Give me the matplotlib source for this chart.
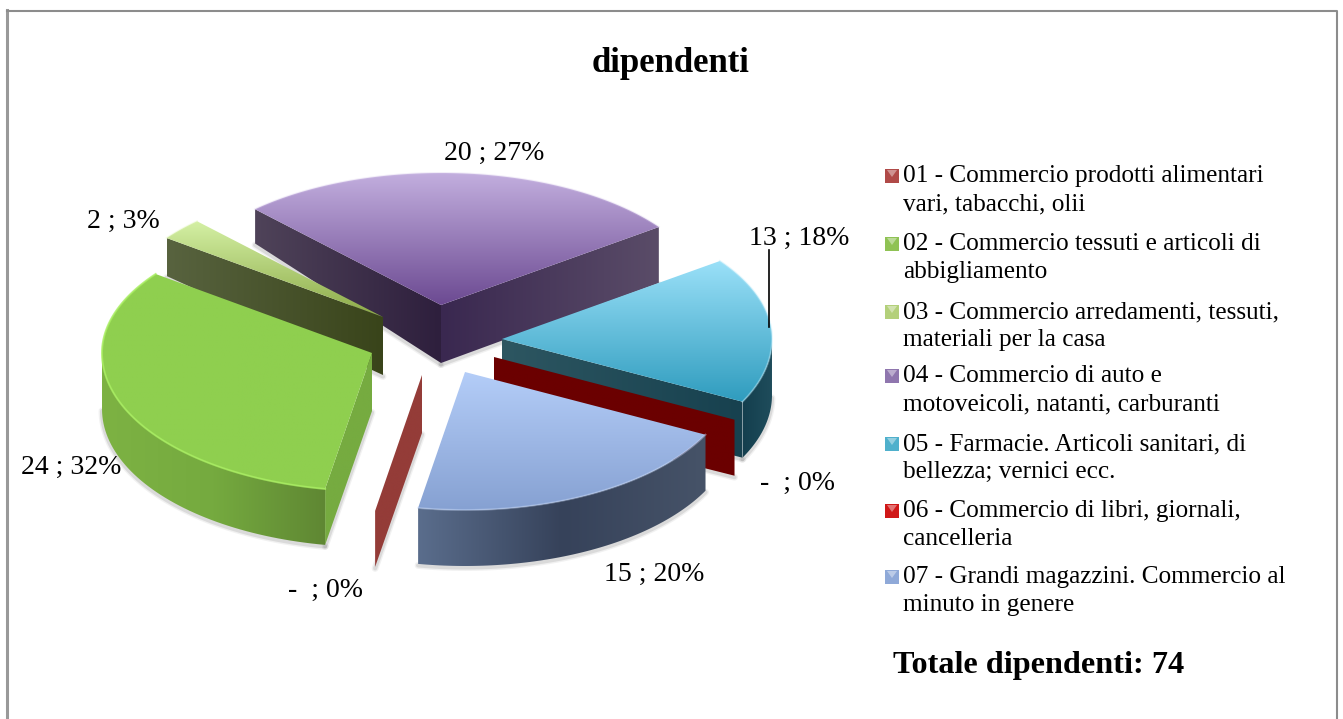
import numpy as np
import matplotlib
matplotlib.use('Agg')
import matplotlib.pyplot as plt
from matplotlib.colors import to_rgb
from matplotlib.patches import Polygon, Rectangle

# data
title = 'dipendenti'
total_label = 'Totale dipendenti: 74'
categories = [
    '01 - Commercio prodotti alimentari\nvari, tabacchi, olii',
    '02 - Commercio tessuti e articoli di\nabbigliamento',
    '03 - Commercio arredamenti, tessuti,\nmateriali per la casa',
    '04 - Commercio di auto e\nmotoveicoli, natanti, carburanti',
    '05 - Farmacie. Articoli sanitari, di\nbellezza; vernici ecc.',
    '06 - Commercio di libri, giornali,\ncancelleria',
    '07 - Grandi magazzini. Commercio al\nminuto in genere',
]
values = [0, 24, 2, 20, 13, 0, 15]

# layout, in pixels of the picture
W, H = 1343, 719
RX, RY_NEAR, RY_FAR = 270, 138, 132
START = 190
apex = [(422, 375), (372, 353), (383, 317), (441, 305), (502, 339), (494, 357), (465, 372)]
label_pos = [(325, 590), (71, 467), (123, 221), (494, 153), (799, 238), (797, 483), (654, 574)]
legend_y = [175, 243, 311, 375, 443, 510, 576]
draw_order = [3, 2, 4, 5, 1, 6, 0]
SERIF = 'Liberation Serif'

# colours
top_colors = [
    ['#943c38', '#943c38'], ['#8fcf4f', '#8fcf4f'], ['#d4f0a4', '#8caa48'],
    ['#c2aede', '#6c4a92'], ['#9ae0f8', '#2f9cbe'], ['#6b0000', '#6b0000'],
    ['#b4cdf8', '#86a1d2'],
]
left_wall_colors = [
    ['#943c38', '#943c38'], ['#76ab40', '#76ab40'], ['#58633f', '#39441a'],
    ['#4f4359', '#2e1f3d'], ['#2e5966', '#143f4e'], ['#6b0000', '#6b0000'],
    ['#5a6d8c', '#36425a'],
]
right_wall_colors = [
    ['#943c38', '#943c38'], ['#76ab40', '#76ab40'], ['#58633f', '#39441a'],
    ['#3a2850', '#5a4c68'], ['#2d5661', '#17414f'], ['#6b0000', '#6b0000'],
    ['#5a6d8c', '#36425a'],
]
rim_colors = [
    ['#943c38', '#943c38'], ['#7db243', '#75aa3f', '#5f8733'], ['#58633f', '#39441a'],
    ['#3a2850', '#5a4c68'], ['#143f4e', '#1f4d5c'], ['#6b0000', '#6b0000'],
    ['#5a6d8c', '#36425a', '#465368'],
]
edge_colors = ['#943c38', '#a8ee60', '#e0f5b8', '#d4c4ea', '#b8eafa', '#6b0000', '#c8dafa']
edge_alpha = [0, 0.8, 0.3, 0.3, 0.4, 0, 0.4]
legend_colors = ['#b04a48', '#8fc254', '#b3d07a', '#8f76ae', '#4fb0cc', '#d01818', '#8fa9d8']


def depth(phi):
    # only the far left corners look shallower
    t = np.radians(phi)
    if np.sin(t) < 0 and np.cos(t) > 0:
        return 56 - 30 * np.cos(t)
    return 56


def on_ellipse(a, phi):
    t = np.radians(phi)
    ry = RY_FAR if np.cos(t) > 0 else RY_NEAR
    return a[0] + RX * np.sin(t), a[1] - ry * np.cos(t)


def grad_fill(ax, pts, colors, vertical, z):
    pts = np.array(pts)
    x0, y0 = pts.min(axis=0)
    x1, y1 = pts.max(axis=0)
    rgb = np.array([to_rgb(c) for c in colors])
    s = np.linspace(0, 1, 128)
    grad = np.stack([np.interp(s, np.linspace(0, 1, len(rgb)), rgb[:, i]) for i in range(3)], axis=-1)
    img = grad[:, None, :] if vertical else grad[None, :, :]
    im = ax.imshow(img, extent=(x0, x1, y1, y0), aspect='auto', interpolation='bilinear', zorder=z)
    poly = Polygon(pts, closed=True, transform=ax.transData, fc='none', ec='none')
    ax.add_patch(poly)
    im.set_clip_path(poly)


def soft_shadow(ax, xs, ys, z):
    for lw, alpha in ((5, 0.08), (3, 0.14)):
        ax.plot(xs, np.array(ys) + 1.5, color='#555555', lw=lw, alpha=alpha,
                solid_capstyle='round', zorder=z)


fig = plt.figure(figsize=(W / 100, H / 100), dpi=100)
ax = fig.add_axes([0, 0, 1, 1])
ax.axis('off')

# frame has no bottom line, it runs off the picture
ax.plot([7, 7], [719, 10], color='#999999', lw=2.2, zorder=0)
ax.plot([7, 1337, 1337], [10.5, 10.5, 719], color='#8c8c8c', lw=1.5, zorder=0)

# angles come from the values, clockwise from the top
total = sum(values)
angles = START + np.cumsum([0] + values) / total * 360

z = 1
for i in draw_order:
    a = apex[i]
    a0, a1 = angles[i], angles[i + 1]
    arc = np.linspace(a0, a1, 80) if a1 > a0 else np.array([a0])
    top_pts = [a] + [on_ellipse(a, p) for p in arc]
    bot = (a[0], a[1] + 58)

    # radial walls
    walls = []
    if np.sin(np.radians(a0)) < 0:
        walls.append(a0)
    if np.sin(np.radians(a1)) > 0:
        walls.append(a1)
    for phi in walls:
        o = on_ellipse(a, phi)
        low = (o[0], o[1] + depth(phi))
        soft_shadow(ax, [low[0], bot[0]], [low[1], bot[1]], z)
        z += 1
        cols = left_wall_colors[i] if o[0] < a[0] else right_wall_colors[i]
        grad_fill(ax, [a, o, low, bot], cols, False, z)
        z += 1

    # outer rim, the part facing the viewer
    vis = [p for p in arc if np.cos(np.radians(p)) < 0]
    if len(vis) > 1 and a1 > a0:
        upper = [on_ellipse(a, p) for p in vis]
        lower = [(x, y + depth(p)) for (x, y), p in zip(upper, vis)]
        lx, ly = zip(*lower)
        soft_shadow(ax, lx, ly, z)
        z += 1
        grad_fill(ax, upper + lower[::-1], rim_colors[i], False, z)
        z += 1

    # top
    grad_fill(ax, top_pts, top_colors[i], True, z)
    z += 1
    if a1 > a0:
        xs, ys = zip(*top_pts[1:])
        ax.plot(xs, ys, color=edge_colors[i], alpha=edge_alpha[i], lw=1.4, zorder=z)
        z += 1

# data labels
for v, (x, y) in zip(values, label_pos):
    pct = round(v / total * 100)
    txt = f'{v} ; {pct}%' if v else f'-  ; {pct}%'
    ax.text(x, y, txt, family=SERIF, fontsize=20, ha='center', va='center', color='black', zorder=z)
ax.plot([769, 769], [250, 327], color='black', lw=1.2, zorder=z)

ax.text(671, 63, title, family=SERIF, fontsize=25, fontweight='bold', ha='center', va='center', zorder=z)

# legend, one text per line so the baselines sit where they should
for y, name, c in zip(legend_y, categories, legend_colors):
    ax.add_patch(Rectangle((885, y - 6), 14, 14, fc=c, ec='none', zorder=z))
    ax.add_patch(Polygon([(887, y - 5), (897, y - 5), (892, y + 2)], fc='white', alpha=0.4, ec='none', zorder=z))
    for k, line in enumerate(name.split('\n')):
        ax.text(903, y + 7 + 28 * k, line, family=SERIF, fontsize=18.2, va='baseline', zorder=z)

ax.text(893, 666, total_label, family=SERIF, fontsize=23.2, fontweight='bold', va='center', zorder=z)

ax.set_xlim(0, W)
ax.set_ylim(H, 0)
fig.savefig('out.png', dpi=100)
